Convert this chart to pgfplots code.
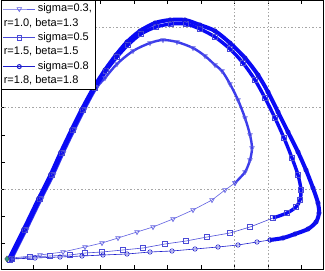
\documentclass[border=0pt]{standalone}
\usepackage{fontspec}
\setmainfont{Liberation Sans}
\usepackage{pgfplots}
\pgfplotsset{compat=1.18}
\definecolor{cA}{RGB}{95,95,225}
\definecolor{cB}{RGB}{75,75,215}
\definecolor{cC}{RGB}{30,30,205}
\definecolor{band}{RGB}{10,10,245}
\definecolor{bandA}{RGB}{60,60,235}
\definecolor{startc}{RGB}{40,150,130}
\begin{document}
\begin{tikzpicture}
\useasboundingbox (0,0) rectangle (325pt,271pt);
\begin{axis}[
  at={(1pt,2pt)}, anchor=south west,
  scale only axis, width=322pt, height=269pt,
  xmin=1, xmax=323, ymin=2, ymax=271,
  xtick={33.5,67,100.5,134,167.5,201,234.5,268,301.5},
  ytick={28,55,82,109,136,164,190,217,244},
  xticklabels={}, yticklabels={},
  ytick pos=left,
  tick align=inside, major tick length=4pt,
  tick style={black, line width=0.5pt},
  extra x ticks={234.5,268}, extra x tick labels={},
  extra x tick style={grid=major, major tick length=0pt},
  extra y ticks={82,164,244}, extra y tick labels={},
  extra y tick style={grid=major, major tick length=0pt},
  grid style={gray!70, dash pattern=on 1.5pt off 2pt, line width=0.45pt},
  axis line style={black, line width=0.6pt},
  legend style={at={(0,1)}, anchor=north west, draw=black, fill=white,
    line width=0.6pt,
    font=\fontsize{11}{12}\selectfont, inner sep=1.5pt, row sep=0pt,
    nodes={inner sep=2pt, text height=8pt, text depth=2.4pt}},
  legend cell align=left,
  legend image code/.code={\draw[mark repeat=2,mark phase=2,#1] plot coordinates {(0pt,0pt) (16pt,0pt) (32pt,0pt)};},
]
% ---- curve 1: sigma=0.3 (triangles) ----
\addplot[forget plot, bandA, line width=2.4pt, smooth, mark=triangle, mark size=2.6pt,
  mark options={rotate=180, line width=0.6pt, draw=cA}] coordinates {
(11.5,11) (26.5,41) (41.5,72) (53.5,96) (63.5,118) (74.5,141) (84.5,161) (96.5,183)
(105,193) (117,207) (133,220) (150,228) (163,231) (177,229) (193,223)
(205,215) (215,206) (222,200) (230,187) (238,171) (245,153) (250,136)
(252,123) (250,111) (245,99) (235,88)};
\addplot[forget plot, cA, line width=0.6pt, mark=triangle, mark size=2.6pt,
  mark options={rotate=180}] coordinates {
(235,88) (225,81) (212,71) (193,61) (173,52) (153,44) (137,39) (118,33)
(102,28) (85,24) (63,19) (40,16) (12,13)};
% ---- curve 2: sigma=0.5 (squares) ----
\addplot[forget plot, band, line width=3.4pt, smooth, mark=square, mark size=2.2pt,
  mark options={line width=0.6pt, draw=cB}] coordinates {
(10,11) (25,41) (40,72) (52,96) (62,118) (73,141) (83,161) (95,183)
(106,200) (117,214) (128,226) (141,237) (156,244) (171,247) (186,247)
(200,242) (215,234) (230,222) (243,208) (255,191) (265,173) (275,153)
(284,133) (292,113) (298,96) (301,81) (300,71) (296,64) (287,58) (273,53)};
\addplot[forget plot, cB, line width=0.6pt, mark=square, mark size=2.2pt] coordinates {
(273,53) (250,44) (230,38) (207,34) (186,30) (165,27) (143,23) (123,21)
(102,19) (85,18) (70,16) (50,15) (30,14) (12,12)};
% ---- curve 3: sigma=0.8 (circles) ----
\addplot[forget plot, band, line width=4pt, smooth, mark=o, mark size=2.2pt,
  mark options={line width=0.6pt, draw=cC}] coordinates {
(8.5,11) (23.5,41) (38.5,72) (50.5,96) (60.5,118) (71.5,141) (81.5,161) (93.5,183)
(105,201) (116,216) (127,229) (140,240) (155,248) (170,251) (185,251)
(200,246) (215,240) (230,228) (245,213) (258,196) (268,179) (278,159)
(288,139) (298,119) (306,101) (313,83) (318,68) (319,58) (316,49)
(308,42) (295,37) (283,33) (270,31)};
\addplot[forget plot, cC, line width=0.6pt, mark=o, mark size=2.2pt] coordinates {
(270,31) (257,29) (238,26) (218,24) (195,22) (172,20) (150,19) (127,17)
(103,16) (82,15) (60,14) (35,13) (12,12)};
% ---- start point ----
\addplot[forget plot, only marks, mark=diamond*, mark size=3pt,
  mark options={fill=startc, draw=black!70, line width=0.4pt}] coordinates {(7,12)};
% ---- legend ----
\addlegendimage{cA, line width=0.6pt, mark=triangle, mark size=2.6pt, mark options={rotate=180}}
\addlegendentry{sigma=0.3,}
\addlegendimage{empty legend}
\addlegendentry{\hspace*{-34pt}r=1.0, beta=1.3}
\addlegendimage{cB, line width=0.6pt, mark=square, mark size=2.2pt}
\addlegendentry{sigma=0.5}
\addlegendimage{empty legend}
\addlegendentry{\hspace*{-34pt}r=1.5, beta=1.5}
\addlegendimage{cC, line width=1pt, mark=o, mark size=2pt}
\addlegendentry{sigma=0.8}
\addlegendimage{empty legend}
\addlegendentry{\hspace*{-34pt}r=1.8, beta=1.8}
\end{axis}
\end{tikzpicture}
\end{document}
